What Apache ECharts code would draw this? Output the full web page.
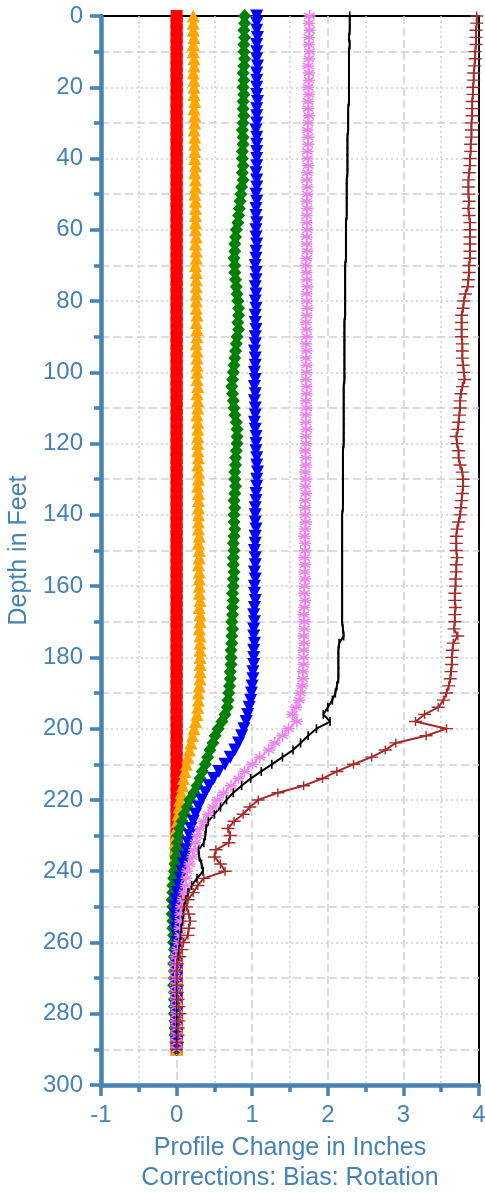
<!DOCTYPE html>
<html>
<head>
<meta charset="utf-8">
<script src="https://cdn.jsdelivr.net/npm/echarts@6/dist/echarts.min.js"></script>
<style>
  html, body { margin: 0; padding: 0; background: #fff; }
  #charts { width: 485px; height: 1193px; }
</style>
</head>
<body>
<div id="charts"></div>
<script>
// depth in feet, one reading every 2 ft
var depths = [
  0, 2, 4, 6, 8, 10, 12, 14, 16, 18,
  20, 22, 24, 26, 28, 30, 32, 34, 36, 38,
  40, 42, 44, 46, 48, 50, 52, 54, 56, 58,
  60, 62, 64, 66, 68, 70, 72, 74, 76, 78,
  80, 82, 84, 86, 88, 90, 92, 94, 96, 98,
  100, 102, 104, 106, 108, 110, 112, 114, 116, 118,
  120, 122, 124, 126, 128, 130, 132, 134, 136, 138,
  140, 142, 144, 146, 148, 150, 152, 154, 156, 158,
  160, 162, 164, 166, 168, 170, 172, 174, 176, 178,
  180, 182, 184, 186, 188, 190, 192, 194, 196, 198,
  200, 202, 204, 206, 208, 210, 212, 214, 216, 218,
  220, 222, 224, 226, 228, 230, 232, 234, 236, 238,
  240, 242, 244, 246, 248, 250, 252, 254, 256, 258,
  260, 262, 264, 266, 268, 270, 272, 274, 276, 278,
  280, 282, 284, 286, 288, 290
];

var redVals = [
  0, 0, 0, 0, 0, 0, 0, 0, 0, 0,
  0, 0, 0, 0, 0, 0, 0, 0, 0, 0,
  0, 0, 0, 0, 0, 0, 0, 0, 0, 0,
  0, 0, 0, 0, 0, 0, 0, 0, 0, 0,
  0, 0, 0, 0, 0, 0, 0, 0, 0, 0,
  0, 0, 0, 0, 0, 0, 0, 0, 0, 0,
  0, 0, 0, 0, 0, 0, 0, 0, 0, 0,
  0, 0, 0, 0, 0, 0, 0, 0, 0, 0,
  0, 0, 0, 0, 0, 0, 0, 0, 0, 0,
  0, 0, 0, 0, 0, 0, 0, 0, 0, 0,
  0, 0, 0, 0, 0, 0, 0, 0, 0, 0,
  0, 0, 0, 0, 0, 0, 0, 0, 0, 0,
  0, 0, 0, 0, 0, 0, 0, 0, 0, 0,
  0, 0, 0, 0, 0, 0, 0, 0, 0, 0,
  0, 0, 0, 0, 0, 0
];

var orangeVals = [
  0.22, 0.22, 0.22, 0.23, 0.22, 0.22, 0.23, 0.23, 0.22, 0.23,
  0.23, 0.23, 0.24, 0.23, 0.24, 0.24, 0.23, 0.24, 0.24, 0.24,
  0.24, 0.25, 0.24, 0.25, 0.25, 0.24, 0.25, 0.25, 0.25, 0.25,
  0.25, 0.26, 0.25, 0.26, 0.26, 0.25, 0.26, 0.26, 0.26, 0.26,
  0.26, 0.26, 0.27, 0.26, 0.27, 0.27, 0.26, 0.27, 0.27, 0.27,
  0.27, 0.27, 0.28, 0.27, 0.28, 0.28, 0.27, 0.28, 0.28, 0.28,
  0.28, 0.28, 0.29, 0.28, 0.29, 0.29, 0.28, 0.29, 0.29, 0.29,
  0.29, 0.29, 0.29, 0.30, 0.29, 0.30, 0.30, 0.29, 0.30, 0.30,
  0.30, 0.30, 0.31, 0.30, 0.31, 0.31, 0.30, 0.31, 0.31, 0.31,
  0.31, 0.31, 0.31, 0.31, 0.30, 0.29, 0.29, 0.28, 0.27, 0.25,
  0.23, 0.21, 0.19, 0.17, 0.15, 0.13, 0.11, 0.09, 0.08, 0.06,
  0.04, 0.03, 0.02, 0.01, 0.00, -0.01, -0.02, -0.02, -0.02, -0.02,
  -0.02, -0.02, -0.03, -0.02, -0.02, -0.02, -0.01, -0.01, -0.01, -0.01,
  0.00, 0.00, -0.01, 0.00, 0.00, 0.00, 0.00, -0.01, 0.00, 0.00,
  0.00, 0.00, 0.00, 0.00, 0.00, 0.00
];

var greenVals = [
  0.90, 0.90, 0.89, 0.90, 0.89, 0.89, 0.90, 0.89, 0.88, 0.89,
  0.88, 0.89, 0.88, 0.88, 0.89, 0.88, 0.87, 0.88, 0.88, 0.87,
  0.87, 0.88, 0.87, 0.88, 0.86, 0.85, 0.84, 0.83, 0.82, 0.81,
  0.79, 0.78, 0.77, 0.77, 0.76, 0.77, 0.77, 0.78, 0.79, 0.80,
  0.81, 0.82, 0.82, 0.81, 0.82, 0.80, 0.79, 0.78, 0.77, 0.76,
  0.75, 0.74, 0.73, 0.74, 0.75, 0.76, 0.77, 0.79, 0.80, 0.80,
  0.80, 0.79, 0.78, 0.78, 0.77, 0.77, 0.78, 0.77, 0.76, 0.77,
  0.76, 0.76, 0.77, 0.76, 0.75, 0.76, 0.75, 0.75, 0.76, 0.75,
  0.75, 0.74, 0.75, 0.74, 0.74, 0.73, 0.74, 0.73, 0.73, 0.72,
  0.72, 0.72, 0.71, 0.71, 0.70, 0.69, 0.68, 0.67, 0.64, 0.60,
  0.55, 0.51, 0.48, 0.44, 0.41, 0.38, 0.34, 0.31, 0.27, 0.23,
  0.17, 0.14, 0.10, 0.07, 0.04, 0.02, 0.01, 0.00, -0.01, -0.02,
  -0.03, -0.04, -0.05, -0.05, -0.06, -0.05, -0.06, -0.05, -0.05, -0.04,
  -0.04, -0.03, -0.03, -0.04, -0.03, -0.03, -0.04, -0.03, -0.03, -0.03,
  -0.03, -0.02, -0.02, -0.02, -0.01, 0.00
];

var blueVals = [
  1.06, 1.06, 1.06, 1.07, 1.06, 1.06, 1.06, 1.07, 1.06, 1.06,
  1.06, 1.06, 1.07, 1.06, 1.06, 1.06, 1.05, 1.06, 1.06, 1.06,
  1.06, 1.06, 1.05, 1.06, 1.06, 1.05, 1.06, 1.05, 1.05, 1.06,
  1.05, 1.05, 1.06, 1.05, 1.05, 1.04, 1.05, 1.05, 1.04, 1.05,
  1.04, 1.05, 1.04, 1.04, 1.05, 1.04, 1.04, 1.03, 1.04, 1.04,
  1.03, 1.04, 1.03, 1.04, 1.03, 1.04, 1.04, 1.03, 1.04, 1.05,
  1.05, 1.05, 1.06, 1.06, 1.07, 1.06, 1.06, 1.05, 1.05, 1.04,
  1.04, 1.04, 1.05, 1.04, 1.04, 1.03, 1.04, 1.04, 1.03, 1.04,
  1.03, 1.03, 1.04, 1.03, 1.02, 1.03, 1.02, 1.02, 1.03, 1.02,
  1.02, 1.02, 1.01, 1.01, 1.00, 0.99, 0.98, 0.96, 0.94, 0.92,
  0.89, 0.86, 0.82, 0.77, 0.71, 0.64, 0.56, 0.49, 0.43, 0.38,
  0.33, 0.29, 0.25, 0.22, 0.19, 0.17, 0.15, 0.13, 0.11, 0.09,
  0.07, 0.05, 0.03, 0.01, -0.01, -0.02, -0.02, -0.01, -0.01, 0.00,
  0.00, -0.01, 0.00, -0.01, 0.00, 0.00, -0.01, 0.00, 0.00, -0.01,
  0.00, 0.00, -0.01, 0.00, 0.00, 0.00
];

var violetVals = [
  1.76, 1.75, 1.76, 1.75, 1.75, 1.76, 1.75, 1.74, 1.75, 1.75,
  1.74, 1.75, 1.74, 1.74, 1.75, 1.74, 1.73, 1.74, 1.74, 1.73,
  1.73, 1.74, 1.73, 1.72, 1.73, 1.73, 1.72, 1.73, 1.72, 1.72,
  1.73, 1.72, 1.72, 1.73, 1.72, 1.71, 1.72, 1.72, 1.73, 1.72,
  1.72, 1.73, 1.72, 1.71, 1.72, 1.72, 1.71, 1.72, 1.71, 1.72,
  1.72, 1.71, 1.72, 1.72, 1.71, 1.72, 1.71, 1.71, 1.72, 1.71,
  1.71, 1.70, 1.71, 1.71, 1.70, 1.71, 1.70, 1.71, 1.70, 1.70,
  1.70, 1.71, 1.70, 1.69, 1.70, 1.70, 1.69, 1.70, 1.69, 1.70,
  1.69, 1.69, 1.70, 1.69, 1.68, 1.69, 1.69, 1.68, 1.69, 1.68,
  1.68, 1.68, 1.67, 1.67, 1.66, 1.64, 1.62, 1.58, 1.53, 1.59,
  1.48, 1.40, 1.30, 1.22, 1.10, 1.00, 0.90, 0.82, 0.72, 0.62,
  0.54, 0.48, 0.42, 0.36, 0.31, 0.27, 0.25, 0.23, 0.21, 0.17,
  0.14, 0.13, 0.12, 0.10, 0.08, 0.06, 0.05, 0.05, 0.04, 0.05,
  0.03, 0.01, -0.01, -0.02, -0.02, -0.02, -0.01, -0.02, -0.01, -0.01,
  0.00, -0.01, 0.00, 0.00, 0.00, 0.00
];

var blackVals = [
  2.29, 2.29, 2.29, 2.28, 2.29, 2.28, 2.28, 2.28, 2.28, 2.28,
  2.28, 2.28, 2.28, 2.27, 2.27, 2.27, 2.27, 2.26, 2.26, 2.26,
  2.26, 2.26, 2.26, 2.25, 2.25, 2.25, 2.25, 2.25, 2.25, 2.24,
  2.24, 2.24, 2.24, 2.24, 2.24, 2.23, 2.23, 2.23, 2.23, 2.23,
  2.23, 2.23, 2.23, 2.22, 2.22, 2.22, 2.22, 2.22, 2.22, 2.22,
  2.22, 2.22, 2.21, 2.21, 2.21, 2.21, 2.21, 2.21, 2.21, 2.21,
  2.21, 2.20, 2.20, 2.20, 2.20, 2.20, 2.20, 2.20, 2.20, 2.20,
  2.19, 2.19, 2.19, 2.19, 2.19, 2.19, 2.19, 2.19, 2.19, 2.19,
  2.19, 2.19, 2.19, 2.19, 2.19, 2.19, 2.20, 2.21, 2.15, 2.14,
  2.14, 2.14, 2.14, 2.14, 2.12, 2.10, 2.06, 2.00, 1.94, 2.03,
  1.85, 1.74, 1.64, 1.54, 1.40, 1.26, 1.12, 0.98, 0.86, 0.75,
  0.66, 0.58, 0.50, 0.42, 0.39, 0.38, 0.36, 0.29, 0.30, 0.33,
  0.35, 0.27, 0.20, 0.15, 0.12, 0.10, 0.09, 0.08, 0.06, 0.05,
  0.04, 0.03, 0.02, 0.01, 0.00, 0.00, 0.00, 0.00, 0.00, 0.00,
  0.00, 0.00, 0.00, 0.00, 0.00, 0.00
];

var brownVals = [
  3.97, 3.97, 3.96, 3.96, 3.96, 3.95, 3.95, 3.94, 3.93, 3.93,
  3.92, 3.92, 3.91, 3.91, 3.91, 3.90, 3.90, 3.90, 3.89, 3.89,
  3.88, 3.88, 3.87, 3.86, 3.86, 3.86, 3.87, 3.86, 3.87, 3.88,
  3.88, 3.88, 3.88, 3.88, 3.88, 3.87, 3.87, 3.86, 3.85, 3.82,
  3.80, 3.79, 3.77, 3.77, 3.77, 3.77, 3.78, 3.78, 3.78, 3.79,
  3.80, 3.81, 3.78, 3.76, 3.75, 3.75, 3.74, 3.73, 3.72, 3.70,
  3.71, 3.73, 3.73, 3.75, 3.78, 3.79, 3.79, 3.78, 3.77, 3.76,
  3.75, 3.73, 3.71, 3.70, 3.70, 3.70, 3.71, 3.70, 3.70, 3.69,
  3.69, 3.68, 3.68, 3.69, 3.68, 3.68, 3.67, 3.72, 3.66, 3.65,
  3.64, 3.64, 3.63, 3.62, 3.60, 3.57, 3.53, 3.46, 3.28, 3.16,
  3.57, 3.30, 2.90, 2.76, 2.58, 2.34, 2.12, 1.93, 1.68, 1.34,
  1.08, 0.97, 0.88, 0.76, 0.68, 0.71, 0.69, 0.52, 0.50, 0.58,
  0.64, 0.36, 0.28, 0.22, 0.15, 0.13, 0.16, 0.18, 0.16, 0.15,
  0.09, 0.07, 0.04, 0.01, 0.00, 0.00, 0.01, 0.01, 0.02, 0.03,
  0.04, 0.03, 0.02, 0.02, 0.01, 0.00
];

var xTicks = { min: -1, max: 4, step: 1 };
var yTicks = { min: 0, max: 300, step: 20 };

var axisColor = '#4682B4';
var gridColor = '#cfcfcf';
var fontName = 'Liberation Sans';

var myChart = echarts.init(document.getElementById('charts'));

function toPoints(vals) {
    return vals.map(function (v, i) { return [v, depths[i]]; });
}

function makeSeries(name, vals, color, symbol, size, lineWidth, extra) {
    var s = {
        name: name,
        type: 'line',
        data: toPoints(vals),
        symbol: symbol,
        symbolSize: size,
        showAllSymbol: true,
        silent: true,
        lineStyle: { color: color, width: lineWidth },
        itemStyle: { color: color, borderWidth: 0 }
    };
    if (extra) {
        for (var k in extra) s[k] = extra[k];
    }
    return s;
}

var asterisk = 'path://M6 0L6 12M0.8 3L11.2 9M0.8 9L11.2 3M0 6L12 6';
var plus = 'path://M0 3.8L13 3.8L13 5.2L0 5.2ZM5.8 0L7.2 0L7.2 9L5.8 9Z';

var seriesList = [
    makeSeries('red', redVals, '#FF0000', 'rect', 12, 2),
    makeSeries('orange', orangeVals, '#FFA500', 'triangle', 13, 1.5),
    makeSeries('green', greenVals, '#008000', 'diamond', [13, 14], 1.5),
    makeSeries('blue', blueVals, '#0000FF', 'triangle', 13, 1.5, { symbolRotate: 180 }),
    makeSeries('violet', violetVals, '#EE82EE', asterisk, 12, 1.5, {
        itemStyle: { color: '#EE82EE', borderColor: '#EE82EE', borderWidth: 1.5 }
    }),
    makeSeries('black', blackVals, '#000000', 'rect', [1.6, 9], 2),
    makeSeries('brown', brownVals, '#A52A2A', plus, [13, 9], 2)
];

var option = {
    animation: false,
    backgroundColor: '#fff',
    grid: {
        left: 101,
        right: 6,
        top: 16,
        bottom: 108,
        show: true,
        borderColor: '#000',
        borderWidth: 2,
        backgroundColor: 'transparent',
        outerBoundsMode: 'none'
    },
    xAxis: {
        type: 'value',
        min: xTicks.min,
        max: xTicks.max,
        interval: xTicks.step,
        name: 'Profile Change in Inches\nCorrections: Bias: Rotation',
        nameLocation: 'middle',
        nameGap: 48,
        nameTextStyle: { color: axisColor, fontSize: 25, fontFamily: fontName, lineHeight: 30 },
        axisLine: { onZero: false, lineStyle: { color: axisColor, width: 4.5 } },
        axisTick: { length: 11, lineStyle: { color: axisColor, width: 3.5 } },
        minorTick: { show: true, splitNumber: 2, length: 7, lineStyle: { color: axisColor, width: 3.5 } },
        axisLabel: { color: axisColor, fontSize: 24, fontFamily: fontName, margin: 18 },
        splitLine: { show: true, showMinLine: false, showMaxLine: false, lineStyle: { color: gridColor, width: 1.5, type: [8, 4] } },
        minorSplitLine: { show: true, lineStyle: { color: gridColor, width: 1.5, type: [2, 3] } }
    },
    yAxis: {
        type: 'value',
        inverse: true,
        min: yTicks.min,
        max: yTicks.max,
        interval: yTicks.step,
        name: 'Depth in Feet',
        nameLocation: 'middle',
        nameRotate: 90,
        nameGap: 67,
        nameTextStyle: { color: axisColor, fontSize: 25, fontFamily: fontName },
        axisLine: { onZero: false, lineStyle: { color: axisColor, width: 4.5 } },
        axisTick: { length: 11, lineStyle: { color: axisColor, width: 3.5 } },
        minorTick: { show: true, splitNumber: 2, length: 7, lineStyle: { color: axisColor, width: 3.5 } },
        axisLabel: { color: axisColor, fontSize: 24, fontFamily: fontName, margin: 18 },
        splitLine: { show: true, showMinLine: false, showMaxLine: false, lineStyle: { color: gridColor, width: 1.5, type: [2, 3] } },
        minorSplitLine: { show: true, lineStyle: { color: gridColor, width: 1.5, type: [8, 4] } }
    },
    series: seriesList
};

myChart.setOption(option);
</script>
</body>
</html>
